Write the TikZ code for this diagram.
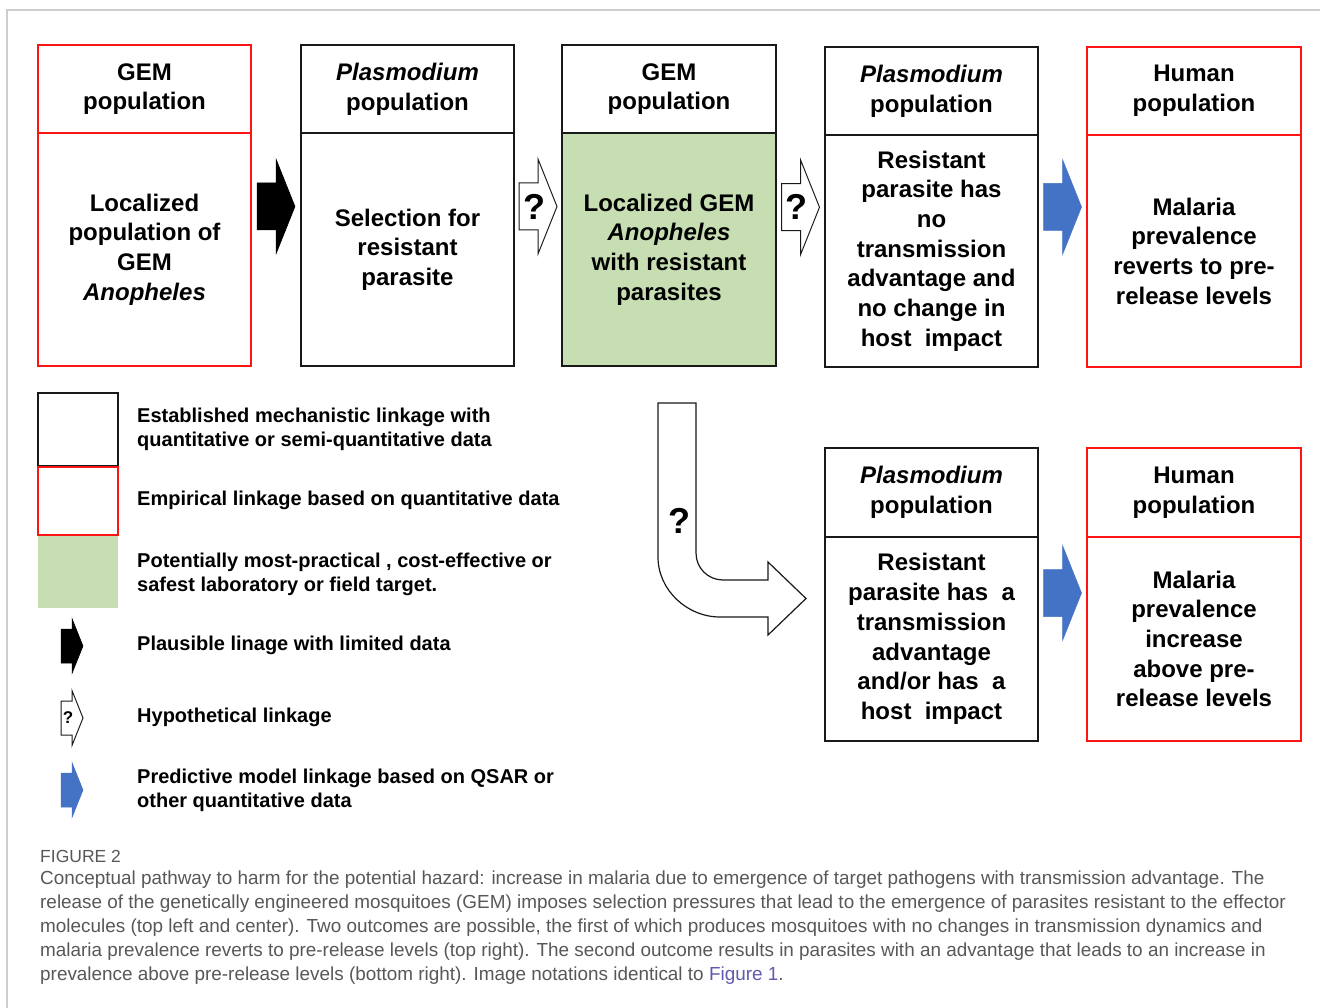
\documentclass[tikz,border=0pt]{standalone}
\usepackage{fontspec}
\setmainfont{Liberation Sans}
\newfontfamily\capfont{Liberation Sans}
\usetikzlibrary{calc}
\definecolor{gemred}{RGB}{255,20,20}
\definecolor{gemgreen}{RGB}{198,222,178}
\definecolor{gemblue}{RGB}{68,114,196}
\definecolor{capgray}{RGB}{88,88,88}
\definecolor{linkblue}{RGB}{95,90,175}
\definecolor{framegray}{RGB}{205,205,205}
\definecolor{boxblack}{RGB}{25,25,25}
\begin{document}
\begin{tikzpicture}[x=1pt,y=-1pt,
  boxtxt/.style={inner sep=0pt, align=center, anchor=north west, line width=2pt,
    font=\fontsize{24}{29.7}\selectfont\bfseries},
  blkbox/.style={boxtxt, draw=boxblack},
  redbox/.style={boxtxt, draw=gemred},
  legtxt/.style={anchor=west, inner sep=0pt, align=left,
    font=\fontsize{20}{24}\selectfont\bfseries},
  captxt/.style={anchor=west, inner sep=0pt, text=capgray,
    font=\capfont\fontsize{18.9}{24}\selectfont},
  qmark/.style={inner sep=0pt, font=\fontsize{36}{36}\selectfont\bfseries},
  blockarrow/.pic={
    \path[pic actions] (-19,-23.5) -- (0,-23.5) -- (0,-47.5) -- (19,0) -- (0,47.5)
      -- (0,23.5) -- (-19,23.5) -- cycle;
  },
  smallarrow/.pic={
    \path[pic actions] (-11,-17) -- (0,-17) -- (0,-27.5) -- (11,0) -- (0,27.5)
      -- (0,17) -- (-11,17) -- cycle;
  }
]
\useasboundingbox (0,0) rectangle (1320,1008);
\fill[white] (0,0) rectangle (1320,1008);
% frame
\draw[framegray, line width=1.5pt] (7,1008) -- (7,10) -- (1320,10);

% top row boxes
\node[redbox, minimum width=213, minimum height=88] (b1t) at (37,44) {GEM\\population};
\node[redbox, minimum width=213, minimum height=233] (b1b) at (37,132) {Localized\\population of\\GEM\\\itshape Anopheles};

\node[blkbox, minimum width=213, minimum height=88] (b2t) at (300,44) {\itshape Plasmodium\\population};
\node[blkbox, minimum width=213, minimum height=233] (b2b) at (300,132) {Selection for\\resistant\\parasite};

\node[blkbox, minimum width=214, minimum height=88] (b3t) at (561,44) {GEM\\population};
\node[blkbox, fill=gemgreen, minimum width=214, minimum height=233] (b3b) at (561,132) {Localized GEM\\\textit{Anopheles}\\with resistant\\parasites};

\node[blkbox, minimum width=213, minimum height=88] (b4t) at (824,46) {\itshape Plasmodium\\population};
\node[blkbox, minimum width=213, minimum height=232] (b4b) at (824,134) {Resistant\\parasite has\\no\\transmission\\advantage and\\no change in\\host\ \ impact};

\node[redbox, minimum width=214, minimum height=88] (b5t) at (1086,46) {Human\\population};
\node[redbox, minimum width=214, minimum height=232] (b5b) at (1086,134) {Malaria\\prevalence\\reverts to pre-\\release levels};

% bottom row boxes
\node[blkbox, minimum width=213, minimum height=89] (b6t) at (824,447) {\itshape Plasmodium\\population};
\node[blkbox, minimum width=213, minimum height=204] (b6b) at (824,536) {Resistant\\parasite has\ \ a\\transmission\\advantage\\and/or has\ \ a\\host\ \ impact};

\node[redbox, minimum width=214, minimum height=89] (b7t) at (1086,447) {Human\\population};
\node[redbox, minimum width=214, minimum height=204] (b7b) at (1086,536) {Malaria\\prevalence\\increase\\above pre-\\release levels};

% block arrows between boxes
\pic[fill=black, draw=black, line width=0.5pt] at ($(b1b.east)!.5!(b2b.west)+(0,-43)$) {blockarrow};
\pic[fill=white, draw=boxblack, line width=1pt] at ($(b2b.east)!.5!(b3b.west)+(0,-43)$) {blockarrow};
\node[qmark] (q1) at ($(b2b.east)!.5!(b3b.west)+(-4,-43)$) {?};
\pic[fill=white, draw=boxblack, line width=1pt] at ($(b3b.east)!.5!(b4b.west)+(0,-43)$) {blockarrow};
\node[qmark] (q2) at ($(b3b.east)!.5!(b4b.west)+(-4,-43)$) {?};
\pic[fill=gemblue, draw=gemblue, line width=0.5pt] at ($(b4b.east)!.5!(b5b.west)+(0,-44)$) {blockarrow};
\pic[fill=gemblue, draw=gemblue, line width=0.5pt] at ($(b6b.east)!.5!(b7b.west)+(0,-46)$) {blockarrow};

% bent hypothetical arrow
\draw[boxblack, line width=1.2pt, fill=white, line join=miter]
  (658,403) -- (696,403) -- (696,553)
  .. controls (696,568) and (708,580) .. (723,580)
  -- (768,580) -- (768,562) -- (806,598.5) -- (768,635) -- (768,617) -- (720,617)
  .. controls (687,617) and (658,590) .. (658,557) -- cycle;
\node[qmark] (bq) at (679,521) {?};

% legend
\draw[boxblack, line width=2pt] (38,393) rectangle (118,466);
\draw[gemred, line width=2pt] (38,467) rectangle (118,535);
\fill[gemgreen] (38,536) rectangle (118,608);
\pic[fill=black, draw=black, line width=0.5pt] at (72,646) {smallarrow};
\pic[fill=white, draw=boxblack, line width=1pt] at (72,718) {smallarrow};
\node[inner sep=0pt, font=\fontsize{17}{17}\selectfont\bfseries] (lq) at (68,718) {?};
\pic[fill=gemblue, draw=gemblue, line width=0.5pt] at (72,790) {smallarrow};

\node[legtxt] (l1) at (137,429) {Established mechanistic linkage with\\quantitative or semi-quantitative data};
\node[legtxt] (l2) at (137,500) {Empirical linkage based on quantitative data};
\node[legtxt] (l3) at (137,574) {Potentially most-practical , cost-effective or\\safest laboratory or field target.};
\node[legtxt] (l4) at (137,645) {Plausible linage with limited data};
\node[legtxt] (l5) at (137,717) {Hypothetical linkage};
\node[legtxt] (l6) at (137,790) {Predictive model linkage based on QSAR or\\other quantitative data};

% caption
\node[anchor=west, inner sep=0pt, text=capgray, font=\capfont\fontsize{17.5}{20}\selectfont] (fig) at (40,856) {FIGURE 2};
\node[captxt] (c1) at (40,880) {Conceptual pathway to harm for the potential hazard: increase in malaria due to emergence of target pathogens with transmission advantage. The};
\node[captxt] (c2) at (40,904) {release of the genetically engineered mosquitoes (GEM) imposes selection pressures that lead to the emergence of parasites resistant to the effector};
\node[captxt] (c3) at (40,928) {molecules (top left and center). Two outcomes are possible, the first of which produces mosquitoes with no changes in transmission dynamics and};
\node[captxt] (c4) at (40,952) {malaria prevalence reverts to pre-release levels (top right). The second outcome results in parasites with an advantage that leads to an increase in};
\node[captxt] (c5) at (40,976) {prevalence above pre-release levels (bottom right). Image notations identical to \textcolor{linkblue}{Figure 1}.};
\end{tikzpicture}
\end{document}
